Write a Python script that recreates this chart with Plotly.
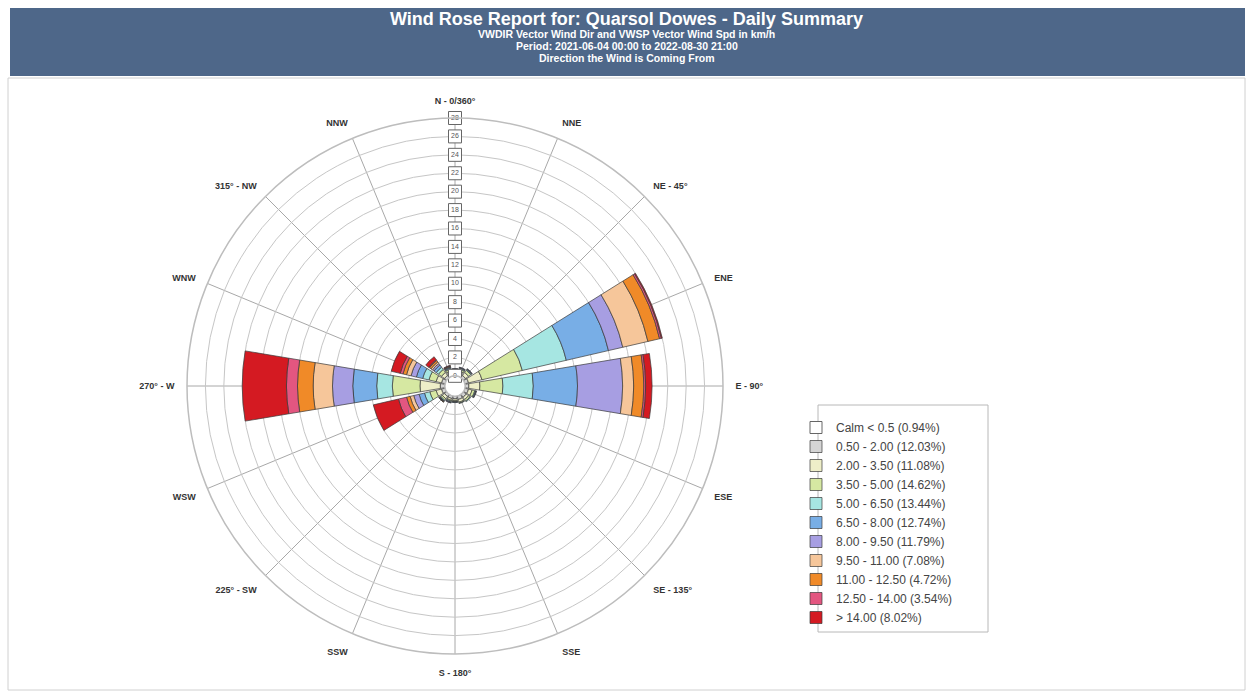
import plotly.graph_objects as go

# ---------------- data ----------------
directions = ["N - 0/360°", "NNE", "NE - 45°", "ENE", "E - 90°", "ESE", "SE - 135°", "SSE",
              "S - 180°", "SSW", "225° - SW", "WSW", "270° - W", "WNW", "315° - NW", "NNW"]
dir_degrees = [0, 22.5, 45, 67.5, 90, 112.5, 135, 157.5, 180, 202.5, 225, 247.5, 270, 292.5, 315, 337.5]

bin_labels = ["0.50 - 2.00 (12.03%)", "2.00 - 3.50 (11.08%)", "3.50 - 5.00 (14.62%)",
              "5.00 - 6.50 (13.44%)", "6.50 - 8.00 (12.74%)", "8.00 - 9.50 (11.79%)",
              "9.50 - 11.00 (7.08%)", "11.00 - 12.50 (4.72%)", "12.50 - 14.00 (3.54%)",
              "> 14.00 (8.02%)"]
calm_label = "Calm < 0.5 (0.94%)"

# frequency (%) per direction (N, NNE, ... NNW) for each speed bin
b_050_200 = [0.3, 0.3, 0.3, 0.4, 0.4, 0.4, 0.4, 0.4, 0.3, 0.3, 0.3, 0.4, 0.5, 0.4, 0.3, 0.3]
b_200_350 = [0.2, 0.3, 0.4, 1.5, 1.2, 0.4, 0.3, 0.3, 0.2, 0.2, 0.3, 0.6, 2.2, 0.6, 0.4, 0.3]
b_350_500 = [0.1, 0.2, 0.3, 4.5, 2.5, 0.3, 0.2, 0.1, 0.1, 0.1, 0.2, 0.7, 3.0, 0.8, 0.4, 0.2]
b_500_650 = [0.1, 0.1, 0.1, 4.9, 3.3, 0.1, 0.1, 0.05, 0.05, 0.1, 0.1, 0.6, 1.7, 0.7, 0.3, 0.1]
b_650_800 = [0.05, 0.05, 0.05, 4.7, 4.8, 0.05, 0, 0, 0.05, 0.05, 0.05, 0.6, 2.6, 0.7, 0.3, 0.1]
b_800_950 = [0.05, 0.05, 0.05, 1.6, 4.9, 0.05, 0, 0, 0, 0.05, 0.05, 0.6, 2.2, 0.6, 0.2, 0.05]
b_950_1100 = [0, 0, 0, 2.8, 1.2, 0, 0, 0, 0, 0, 0.03, 0.4, 2.1, 0.5, 0.2, 0.05]
b_1100_1250 = [0, 0, 0, 1.3, 1.1, 0, 0, 0, 0, 0, 0.02, 0.4, 1.7, 0.4, 0.2, 0.05]
b_1250_1400 = [0, 0, 0, 0.2, 0.2, 0, 0, 0, 0, 0, 0, 0.9, 1.2, 0.3, 0.1, 0.05]
b_gt_1400 = [0, 0, 0, 0.1, 0.7, 0, 0, 0, 0, 0, 0, 2.8, 4.8, 1.0, 0.4, 0.0]

bins = [b_050_200, b_200_350, b_350_500, b_500_650, b_650_800,
        b_800_950, b_950_1100, b_1100_1250, b_1250_1400, b_gt_1400]

bin_colors = ["#d4d4d4", "#eeeec8", "#d6e8a2", "#a6e6e2", "#78aee6",
              "#a79ee2", "#f6c69a", "#f08a28", "#e35680", "#d41a22"]

radial_ticks = [0, 2, 4, 6, 8, 10, 12, 14, 16, 18, 20, 22, 24, 26, 28]

# ---------------- figure ----------------
fig = go.Figure()

# calm legend entry
fig.add_trace(go.Barpolar(r=[0], theta=[0], name=calm_label,
                          marker=dict(color="white", line=dict(color="#666", width=1))))

for vals, lab, col in zip(bins, bin_labels, bin_colors):
    fig.add_trace(go.Barpolar(
        r=vals, theta=dir_degrees, width=[19] * len(dir_degrees), name=lab,
        marker=dict(color=col, line=dict(color="#3a3a3a", width=0.7)),
        opacity=1))

# radial tick labels as boxed text along the north spoke
fig.add_trace(go.Scatterpolar(
    r=radial_ticks, theta=[0] * len(radial_ticks), mode="markers+text",
    text=[str(t) for t in radial_ticks], textposition="middle center",
    textfont=dict(size=7, color="#555", family="Arial"),
    marker=dict(symbol="square", size=13, color="white", line=dict(color="#666", width=1)),
    showlegend=False, hoverinfo="skip"))

W, H = 1253, 694
cx, cy, R = 455, 386, 268
lg_x0, lg_x1, lg_y0, lg_y1 = 818, 988, 405, 632

fig.update_layout(
    width=W, height=H,
    margin=dict(l=0, r=0, t=0, b=0),
    paper_bgcolor="white",
    font=dict(family="Arial, Liberation Sans, sans-serif", color="#333"),
    barmode="stack",
    polar=dict(
        domain=dict(x=[(cx - R) / W, (cx + R) / W], y=[(H - cy - R) / H, (H - cy + R) / H]),
        bgcolor="white",
        hole=0.038,
        angularaxis=dict(rotation=90, direction="clockwise", tickmode="array",
                         tickvals=dir_degrees, ticktext=["<b>%s</b>" % d for d in directions],
                         tickfont=dict(size=9, color="#333", family="Arial"),
                         showline=True, linecolor="#bdbdbd", linewidth=1.5,
                         gridcolor="#a8a8a8", gridwidth=1,
                         ticks="outside", ticklen=10, tickcolor="rgba(0,0,0,0)"),
        radialaxis=dict(range=[0, 28], tickvals=radial_ticks, showticklabels=False,
                        gridcolor="#c6c6c6", gridwidth=1, showline=False, ticks="",
                        angle=90),
    ),
    legend=dict(x=(lg_x0 - 22) / W, y=1 - (lg_y0 + 8) / H, xanchor="left", yanchor="top",
                bgcolor="rgba(0,0,0,0)", borderwidth=0,
                font=dict(size=12, color="#444"), tracegroupgap=0, traceorder="normal"),
    shapes=[
        dict(type="rect", xref="paper", yref="paper", x0=8 / W, x1=1245 / W,
             y0=1 - 690 / H, y1=1 - 78 / H, line=dict(color="#d0d0d0", width=1)),
        dict(type="rect", xref="paper", yref="paper", x0=10 / W, x1=1245 / W,
             y0=1 - 76 / H, y1=1 - 8 / H, fillcolor="#4e6789", line=dict(width=0), layer="below"),
        dict(type="rect", xref="paper", yref="paper", x0=lg_x0 / W, x1=lg_x1 / W,
             y0=1 - lg_y1 / H, y1=1 - lg_y0 / H, fillcolor="white",
             line=dict(color="#b8b8b8", width=1), layer="below"),
    ],
    annotations=[
        dict(text="<b>Wind Rose Report for: Quarsol Dowes - Daily Summary</b>", x=0.5, y=1 - 19 / H,
             xref="paper", yref="paper", yanchor="middle", showarrow=False,
             font=dict(size=18, color="white")),
        dict(text="<b>VWDIR Vector Wind Dir and VWSP Vector Wind Spd in km/h</b>", x=0.5, y=1 - 34 / H,
             xref="paper", yref="paper", yanchor="middle", showarrow=False,
             font=dict(size=10.5, color="white")),
        dict(text="<b>Period: 2021-06-04 00:00 to 2022-08-30 21:00</b>", x=0.5, y=1 - 46 / H,
             xref="paper", yref="paper", yanchor="middle", showarrow=False,
             font=dict(size=10.5, color="white")),
        dict(text="<b>Direction the Wind is Coming From</b>", x=0.5, y=1 - 58 / H,
             xref="paper", yref="paper", yanchor="middle", showarrow=False,
             font=dict(size=10.5, color="white")),
    ],
)

fig.write_html("out.html", config={"displayModeBar": False},
               post_script="document.body.style.margin='0px';")
